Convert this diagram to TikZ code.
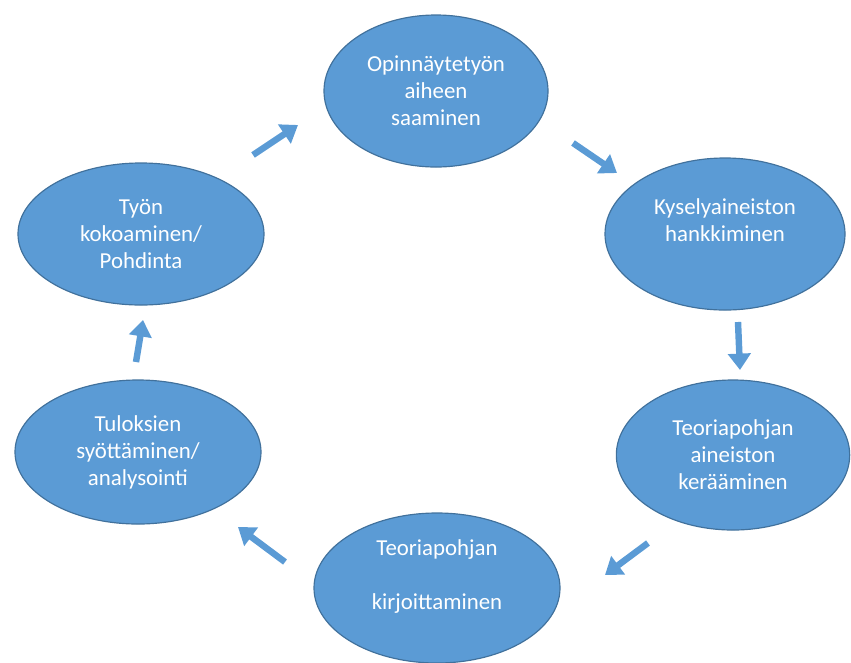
\documentclass[tikz,border=0pt]{standalone}
\usepackage{fontspec}
\setmainfont{Carlito}
\usetikzlibrary{shapes.geometric,arrows.meta}

\definecolor{phasefill}{HTML}{5B9BD5}
\definecolor{phaseedge}{HTML}{41719C}

\tikzset{
  phase/.style={ellipse,fill=phasefill,draw=phaseedge,line width=1pt,
    text=white,align=center,inner sep=0pt,
    font=\fontsize{19.5}{23}\selectfont},
  flow/.style={draw=phasefill,line width=5.5pt,
    -{Triangle[width=19pt,length=14pt]}}
}

\begin{document}
\begin{tikzpicture}[x=0.03cm,y=-0.03cm]
\useasboundingbox (0,0) rectangle (851,662);

% the six phases, clockwise from the top
\node[phase,minimum width=6.72cm,minimum height=4.56cm] (opin) at (436,91) {Opinnäytetyön\\aiheen\\saaminen};
\node[phase,minimum width=7.2cm,minimum height=4.56cm] (kysely) at (725,234) {Kyselyaineiston\\hankkiminen\\\mbox{}};
\node[phase,minimum width=7.0cm,minimum height=4.5cm] (aineisto) at (733,455) {Teoriapohjan\\aineiston\\kerääminen};
\node[phase,minimum width=7.38cm,minimum height=4.5cm] (kirj) at (437,588) {Teoriapohjan\\\mbox{}\\kirjoittaminen\\\mbox{}};
\node[phase,minimum width=7.38cm,minimum height=4.32cm] (tulos) at (138,452) {Tuloksien\\syöttäminen/\\analysointi};
\node[phase,minimum width=7.38cm,minimum height=4.26cm] (tyon) at (141,234) {Työn\\kokoaminen/\\Pohdinta};

% arrow ends
\coordinate (tyon-out) at (253,155);   \coordinate (opin-in) at (298,125);
\coordinate (opin-out) at (573,143);   \coordinate (kysely-in) at (617,173);
\coordinate (kysely-out) at (738,322); \coordinate (aineisto-in) at (740,370);
\coordinate (aineisto-out) at (648,543); \coordinate (kirj-in) at (605,575);
\coordinate (kirj-out) at (285,562);   \coordinate (tulos-in) at (238,527);
\coordinate (tulos-out) at (136,362);  \coordinate (tyon-in) at (143,320);

\draw[flow] (tyon-out) -- (opin-in);
\draw[flow] (opin-out) -- (kysely-in);
\draw[flow] (kysely-out) -- (aineisto-in);
\draw[flow] (aineisto-out) -- (kirj-in);
\draw[flow] (kirj-out) -- (tulos-in);
\draw[flow] (tulos-out) -- (tyon-in);

\end{tikzpicture}
\end{document}
